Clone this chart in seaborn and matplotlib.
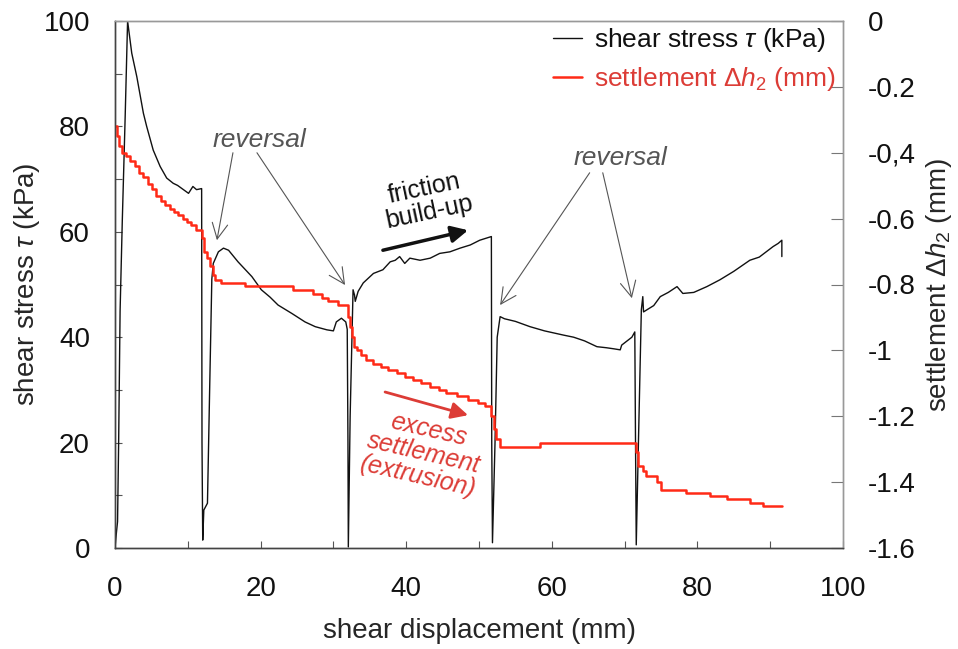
import numpy as np
import pandas as pd
import matplotlib
matplotlib.use("Agg")
import matplotlib.pyplot as plt
import seaborn as sns
from matplotlib.lines import Line2D

# ---- data ----
stress_x = [0, 0.2, 0.35, 0.5, 0.7, 1.0, 1.4, 1.73, 2.3, 3.0, 3.9, 4.35, 5.25, 6.2, 7.1,
            8.0, 8.6, 9.4, 10.1, 10.7, 11.2, 11.9, 11.95, 12.05, 12.2, 12.7, 13.0, 13.3,
            13.5, 14.2, 14.9, 15.6, 16.9, 18.8, 20.1, 21.3, 22.4, 24.3, 26.1, 27.5, 29.1,
            30.0, 30.4, 31.1, 31.7, 31.9, 32.0, 32.05, 32.3, 32.7, 32.9, 33.0, 33.4, 34.1,
            35.5, 36.8, 37.8, 38.5, 39.1, 39.8, 40.5, 41.9, 43.3, 44.6, 46.0, 47.4, 48.8,
            50.1, 51.7, 51.75, 51.85, 52.2, 52.5, 52.9, 53.5, 55.0, 57.0, 59.0, 61.6, 63.0,
            64.5, 66.2, 67.5, 68.5, 69.4, 69.6, 71.0, 71.4, 71.5, 71.6, 71.9, 72.3, 72.5,
            72.6, 74.0, 74.9, 76.0, 77.2, 78.0, 79.5, 81.3, 83.1, 85.0, 87.2, 88.5, 90.4,
            91.1, 91.6, 91.6]
stress_y = [0, 3, 5, 20, 45, 62, 82, 100, 93.9, 89.4, 82.5, 80.0, 75.5, 72.4, 70.2,
            69.2, 68.8, 68.0, 67.3, 68.6, 68.0, 68.2, 20, 1.5, 7.2, 8.5, 30, 51,
            54.0, 56.2, 56.9, 56.5, 54.3, 51.5, 49.0, 47.6, 46.1, 44.5, 42.9, 42.0, 41.4,
            41.2, 42.9, 43.6, 42.9, 41.5, 20, 0.2, 25, 49.0, 48.0, 46.8, 48.7, 50.3,
            52.1, 52.8, 54.3, 54.6, 55.3, 54.0, 55.0, 54.6, 55.0, 55.9, 56.2, 56.9, 57.5,
            58.4, 59.1, 20, 1.0, 20, 40, 43.9, 43.5, 43.0, 42.0, 41.2, 40.4, 40.0,
            39.3, 38.2, 38.0, 37.8, 37.6, 38.5, 40.0, 41.0, 20, 0.6, 20, 45.2, 47.7,
            44.8, 46.0, 47.7, 48.5, 49.6, 48.3, 48.5, 49.6, 50.9, 52.5, 54.6, 55.2, 57.2,
            57.8, 58.4, 55.3]

settle_x = [0, 0.3, 0.6, 0.9, 1.5, 2.1, 2.7, 3.3, 3.9, 4.5, 5.1, 5.7, 6.3, 6.9, 7.5,
            8.1, 8.7, 9.3, 9.9, 10.5, 11.1, 11.9, 12.0, 12.2, 12.6, 13.0, 13.4, 13.8,
            14.6, 17.9, 24.5, 27.2, 28.4, 29.3, 30.7, 32.0, 32.3, 32.5, 32.8, 33.2, 33.8,
            34.5, 35.5, 36.5, 37.5, 38.7, 39.8, 41.0, 42.0, 43.3, 44.5, 45.5, 47.0, 48.5,
            49.8, 50.8, 51.7, 52.0, 52.4, 52.9, 58.4, 71.6, 71.9, 72.5, 73.0, 74.4, 75.0,
            78.5, 81.7, 84.0, 87.2, 89.0, 91.6]
settle_y = [-0.32, -0.35, -0.38, -0.40, -0.41, -0.425, -0.44, -0.46, -0.475, -0.495,
            -0.51, -0.53, -0.545, -0.56, -0.57, -0.58, -0.59, -0.60, -0.61, -0.62,
            -0.635, -0.64, -0.66, -0.70, -0.72, -0.745, -0.77, -0.785, -0.796, -0.806,
            -0.818, -0.83, -0.84, -0.85, -0.862, -0.90, -0.93, -0.96, -0.99, -1.0,
            -1.015, -1.03, -1.04, -1.05, -1.06, -1.07, -1.08, -1.09, -1.10, -1.11,
            -1.12, -1.13, -1.14, -1.15, -1.16, -1.17, -1.20, -1.24, -1.27, -1.292,
            -1.282, -1.31, -1.35, -1.365, -1.38, -1.40, -1.425, -1.432, -1.442, -1.452,
            -1.462, -1.474, -1.474]

x_ticks = [0, 20, 40, 60, 80, 100]
left_ticks = [0, 20, 40, 60, 80, 100]
right_ticks = [0, -0.2, -0.4, -0.6, -0.8, -1.0, -1.2, -1.4, -1.6]
right_labels = ["0", "-0.2", "-0,4", "-0.6", "-0.8", "-1", "-1.2", "-1.4", "-1.6"]

# ---- style ----
sns.set_theme(style="ticks")
plt.rcParams["font.family"] = ["Liberation Sans", "DejaVu Sans"]
plt.rcParams["mathtext.fontset"] = "custom"
plt.rcParams["mathtext.rm"] = "Liberation Sans"
plt.rcParams["mathtext.it"] = "Liberation Sans:italic"

BLACK = "#111111"
RED = "#ff2a17"
ARED = "#dc3c36"
GRAY = "#555555"

fig = plt.figure(figsize=(9.58, 6.49), dpi=100)
ax = fig.add_axes([115 / 958, 1 - 548 / 649, (843 - 115) / 958, (548 - 21) / 649])
ax2 = ax.twinx()

df_s = pd.DataFrame({"disp": stress_x, "tau": stress_y})
df_h = pd.DataFrame({"disp": settle_x, "dh": settle_y})

sns.lineplot(data=df_s, x="disp", y="tau", ax=ax, color=BLACK, lw=1.0,
             sort=False, estimator=None)
sns.lineplot(data=df_h, x="disp", y="dh", ax=ax2, color=RED, lw=1.8,
             sort=False, estimator=None, drawstyle="steps-post")

ax.set_xlim(0, 100)
ax.set_ylim(0, 100)
ax2.set_ylim(-1.6, 0)

ax.set_xticks(x_ticks)
ax.set_xticks([10, 30, 50, 70, 90], minor=True)
ax.set_yticks(left_ticks)
ax.set_yticks([10, 30, 50, 70, 90], minor=True)
ax2.set_yticks(right_ticks)
ax2.set_yticklabels(right_labels)

ax.tick_params(axis="both", which="major", direction="in", length=5, width=0.8,
               color="#555555", labelsize=20, colors="#111111")
ax.tick_params(axis="both", which="minor", direction="in", length=5, width=0.8,
               color="#555555")
ax.tick_params(axis="x", pad=20)
ax.tick_params(axis="y", pad=18)
ax2.tick_params(axis="y", direction="in", length=9, width=0.8, color="#777777",
                labelsize=20, pad=18, colors="#111111")

for a in (ax, ax2):
    a.spines["left"].set_color("#444444")
    a.spines["bottom"].set_color("#444444")
    a.spines["top"].set_color("#999999")
    a.spines["right"].set_color("#999999")
    for s in a.spines.values():
        s.set_linewidth(1.0)

ax.set_xlabel("shear displacement (mm)", fontsize=20, labelpad=12)
ax.set_ylabel(r"shear stress $\it{\tau}$ (kPa)", fontsize=20, labelpad=1)
ax2.set_ylabel(r"settlement $\mathit{Δh}_2$ (mm)", fontsize=20, labelpad=6)

# legend
h1 = Line2D([], [], color=BLACK, lw=1.0)
h2 = Line2D([], [], color=RED, lw=1.8)
if ax2.get_legend():
    ax2.get_legend().remove()
if ax.get_legend():
    ax.get_legend().remove()
leg = ax2.legend([h1, h2], [r"shear stress $\it{\tau}$ (kPa)",
                            r"settlement $\mathit{Δh}_2$ (mm)"],
                 loc="upper right", bbox_to_anchor=(1.012, 1.02), frameon=False,
                 fontsize=19, handlelength=1.1, handletextpad=0.45,
                 labelspacing=0.42, borderaxespad=0.2)
leg.get_texts()[0].set_color(BLACK)
leg.get_texts()[1].set_color(ARED)

# annotations (coordinates in the left-axis data space)
T = ax.transData
thin = dict(arrowstyle="->", color=GRAY, lw=0.8, mutation_scale=28,
            shrinkA=0, shrinkB=0)
ax2.text(19.9, 77.4, "reversal", transform=T, ha="center", va="center",
         fontsize=19, style="italic", color=GRAY)
ax2.annotate("", xy=(14.0, 58.4), xytext=(16.2, 75.0), xycoords=T, textcoords=T,
             arrowprops=thin)
ax2.annotate("", xy=(31.6, 49.9), xytext=(19.5, 75.0), xycoords=T, textcoords=T,
             arrowprops=thin)
ax2.text(69.4, 74.0, "reversal", transform=T, ha="center", va="center",
         fontsize=19, style="italic", color=GRAY)
ax2.annotate("", xy=(52.9, 46.1), xytext=(65.2, 71.2), xycoords=T, textcoords=T,
             arrowprops=thin)
ax2.annotate("", xy=(71.0, 47.4), xytext=(67.0, 71.2), xycoords=T, textcoords=T,
             arrowprops=thin)

ax2.text(42.8, 66.0, "friction\nbuild-up", transform=T, ha="center", va="center",
         fontsize=18, color=BLACK, rotation=12, linespacing=1.0)
ax2.annotate("", xy=(48.5, 60.3), xytext=(36.8, 56.5), xycoords=T, textcoords=T,
             arrowprops=dict(arrowstyle="-|>", color=BLACK, lw=2.5,
                             mutation_scale=25, shrinkA=0, shrinkB=0))

ax2.text(42.4, 18.0, "excess\nsettlement\n(extrusion)", transform=T, ha="center",
         va="center", fontsize=18, color=ARED, style="italic", rotation=-13,
         linespacing=1.0)
ax2.annotate("", xy=(48.5, 25.2), xytext=(37.1, 29.6), xycoords=T, textcoords=T,
             arrowprops=dict(arrowstyle="-|>", color=ARED, lw=2.0,
                             mutation_scale=25, shrinkA=0, shrinkB=0))

fig.savefig("out.png", dpi=100)
